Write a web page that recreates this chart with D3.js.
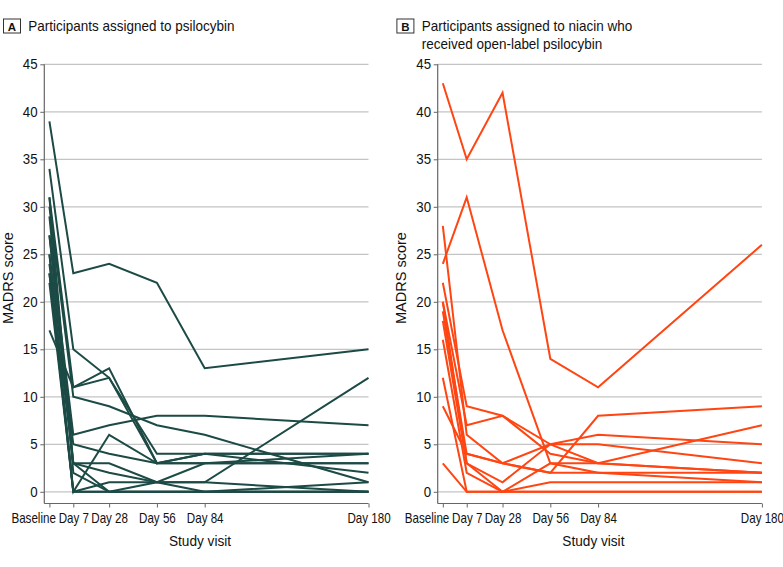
<!DOCTYPE html>
<html><head><meta charset="utf-8">
<script src="https://cdn.jsdelivr.net/npm/d3@7"></script>
<style>body{margin:0;background:#fff}svg{display:block}</style>
</head><body>
<svg id="chart" width="783" height="567"></svg>
<script>
// ---- data ----
const visits = ["Baseline", "Day 7", "Day 28", "Day 56", "Day 84", "Day 180"];
const visitDays = [-7, 7, 28, 56, 84, 180];
const yTicks = [0, 5, 10, 15, 20, 25, 30, 35, 40, 45];

// MADRS scores per participant, one value per visit
const psilocybinScores = [
  [39, 23, 24, 22, 13, 15],
  [34, 15, 12, 3, 3, 3],
  [17, 11, 13, 3, 4, 4],
  [31, 11, 12, 4, 4, 4],
  [30, 10, 9, 7, 6, 1],
  [27, 6, 7, 8, 8, 7],
  [25, 5, 4, 3, 3, 3],
  [29, 3, 3, 1, 0, 0],
  [27, 3, 2, 1, 1, 0],
  [24, 3, 0, 0, 0, 0],
  [23, 0, 6, 3, 4, 2],
  [23, 0, 1, 1, 1, 12],
  [22, 0, 0, 1, 3, 4],
  [31, 2, 0, 0, 0, 1],
  [25, 0, 0, 0, 0, 0]
];

const niacinOpenLabelScores = [
  [43, 35, 42, 14, 11, 26],
  [24, 31, 17, 3, 2, 2],
  [28, 6, 3, 2, 8, 9],
  [22, 9, 8, 5, 6, 5],
  [20, 7, 8, 4, 3, 2],
  [19, 4, 3, 5, 5, 3],
  [18, 3, 1, 5, 3, 2],
  [16, 2, 0, 3, 3, 7],
  [12, 0, 0, 0, 0, 0],
  [9, 4, 3, 2, 2, 1],
  [3, 0, 0, 1, 1, 1],
  [20, 3, 0, 0, 0, 0]
];

const panelLetters = ["A", "B"];
const panelTitles = [
  ["Participants assigned to psilocybin"],
  ["Participants assigned to niacin who", "received open-label psilocybin"]
];
const panelColors = ["#1c4a45", "#ff4512"];
const yLabel = "MADRS score";
const xLabel = "Study visit";

// ---- drawing ----
const svg = d3.select("#chart");
const FONT = "'Liberation Sans',Arial,sans-serif";

const panelOffsets = [0, 393.4];
const datasets = [psilocybinScores, niacinOpenLabelScores];

panelOffsets.forEach((off, pi) => {
  const g = svg.append("g").attr("transform", `translate(${off},0)`);
  const x = d3.scaleLinear().domain([-10, 180]).range([44.3, 368.5]);
  const y = d3.scaleLinear().domain([0, 45]).range([491.8, 64.3]);

  // title
  g.append("rect").attr("x", 3.5).attr("y", 19).attr("width", 17).attr("height", 14)
    .attr("fill", "none").attr("stroke", "#333").attr("stroke-width", 1);
  g.append("text").attr("x", 12).attr("y", 30.5).attr("text-anchor", "middle")
    .attr("font-family", FONT).attr("font-weight", "bold")
    .attr("font-size", 11.5).attr("fill", "#111").text(panelLetters[pi]);
  panelTitles[pi].forEach((t, i) => {
    g.append("text").attr("transform", `translate(28.3,${30.8 + i * 18}) scale(0.9,1)`)
      .attr("font-family", FONT).attr("font-size", 15).attr("fill", "#111").text(t);
  });

  // gridlines
  g.append("g").selectAll("line").data(yTicks).join("line")
    .attr("x1", 44.3).attr("x2", x(180)).attr("y1", d => y(d)).attr("y2", d => y(d))
    .attr("stroke", "#c4c4c4").attr("stroke-width", 1.2);

  // y axis
  const ya = g.append("g").attr("transform", "translate(44.3,0)")
    .call(d3.axisLeft(y).tickValues(yTicks).tickSize(4).tickPadding(3).tickSizeOuter(0));
  ya.select(".domain").remove();
  ya.append("line").attr("x1", 0).attr("x2", 0).attr("y1", y(45)).attr("y2", 503.5)
    .attr("stroke", "#666").attr("stroke-width", 1.2);
  ya.selectAll(".tick line").attr("stroke", "#666");
  ya.selectAll(".tick text").attr("font-family", FONT).attr("font-size", 14).attr("fill", "#111")
    .attr("transform", "scale(0.95,1)");

  // x axis
  const xa = g.append("g").attr("transform", "translate(0,503.5)")
    .call(d3.axisBottom(x).tickValues(visitDays).tickFormat((d, i) => visits[i])
      .tickSize(4).tickPadding(5).tickSizeOuter(0));
  xa.select(".domain").attr("stroke", "#666").attr("stroke-width", 1.2)
    .attr("d", `M44.3,0H${x(180)}`);
  xa.selectAll(".tick line").attr("stroke", "#666");
  xa.selectAll(".tick text").attr("font-family", FONT).attr("font-size", 14.5).attr("fill", "#111")
    .attr("transform", "scale(0.8,1)");
  xa.selectAll(".tick text").filter((d, i) => i === 0)
    .attr("text-anchor", "end").attr("x", 7.5);

  // axis titles
  g.append("text").attr("transform", `translate(13,${y(22.5)}) rotate(-90)`)
    .attr("text-anchor", "middle").attr("font-family", FONT).attr("font-size", 14.5)
    .attr("fill", "#111").text(yLabel);
  g.append("text").attr("transform", "translate(200,546) scale(0.88,1)").attr("text-anchor", "middle")
    .attr("font-family", FONT).attr("font-size", 15.5).attr("fill", "#111").text(xLabel);

  // lines
  const line = d3.line().x((d, i) => x(visitDays[i])).y(d => y(d));
  g.append("g").selectAll("path").data(datasets[pi]).join("path")
    .attr("d", line).attr("fill", "none").attr("stroke", panelColors[pi])
    .attr("stroke-width", 2).attr("stroke-linejoin", "miter");
});
</script>
</body></html>
